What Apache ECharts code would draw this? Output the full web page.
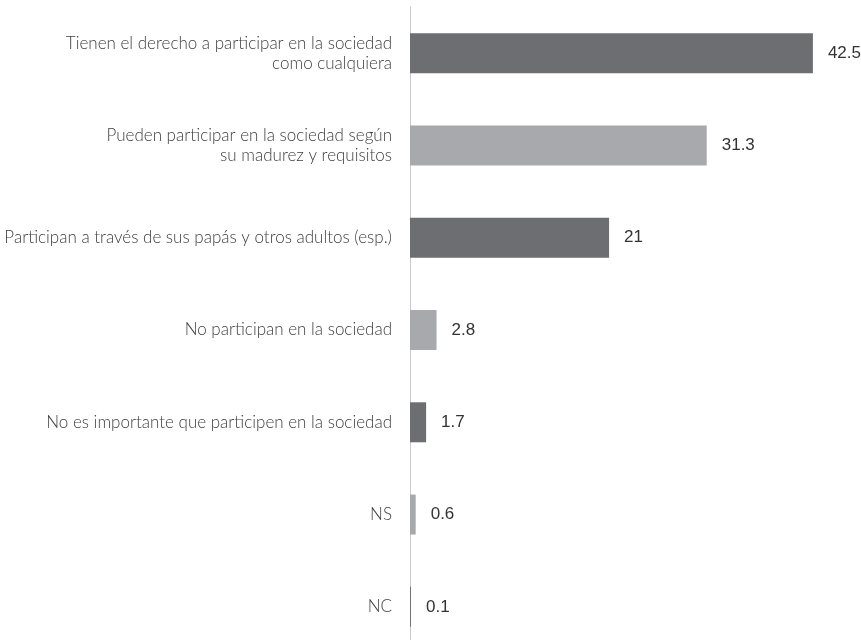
<!DOCTYPE html>
<html>
<head>
<meta charset="utf-8">
<script src="https://cdn.jsdelivr.net/npm/echarts@6/dist/echarts.min.js"></script>
<style>
  html, body { margin: 0; padding: 0; background: #ffffff; }
  #chart { width: 861px; height: 640px; }
</style>
</head>
<body>
<div id="chart"></div>
<script>
// Respuestas (porcentaje) sobre la participación en la sociedad
const categories = [
  'Tienen el derecho a participar en la sociedad\ncomo cualquiera',
  'Pueden participar en la sociedad según\nsu madurez y requisitos',
  'Participan a través de sus papás y otros adultos (esp.)',
  'No participan en la sociedad',
  'No es importante que participen en la sociedad',
  'NS',
  'NC'
];
const values = [42.5, 31.3, 21, 2.8, 1.7, 0.6, 0.1];
const darkGrey = '#6d6e71';
const lightGrey = '#a7a9ac';

const chart = echarts.init(document.getElementById('chart'), null, { renderer: 'canvas' });

chart.setOption({
  animation: false,
  backgroundColor: '#ffffff',
  grid: {
    left: 410, top: 7, width: 474, height: 646,
    containLabel: false,
    outerBoundsMode: 'none'
  },
  xAxis: {
    type: 'value', min: 0, max: 50, show: false
  },
  yAxis: {
    type: 'category',
    inverse: true,
    data: categories,
    axisLine: { show: true, lineStyle: { color: '#c8c8c8', width: 1 } },
    axisTick: { show: false },
    splitLine: { show: false },
    axisLabel: {
      margin: 18,
      color: '#404040',
      fontFamily: 'Lato',
      fontWeight: 300,
      fontSize: 17,
      lineHeight: 20,
      align: 'right'
    }
  },
  series: [{
    type: 'bar',
    barWidth: 40,
    data: values.map((v, i) => ({
      value: v,
      itemStyle: { color: i % 2 === 0 ? darkGrey : lightGrey }
    })),
    label: {
      show: true,
      position: 'right',
      distance: 15,
      color: '#333333',
      fontFamily: 'Liberation Sans',
      fontSize: 17
    }
  }]
});
</script>
</body>
</html>
